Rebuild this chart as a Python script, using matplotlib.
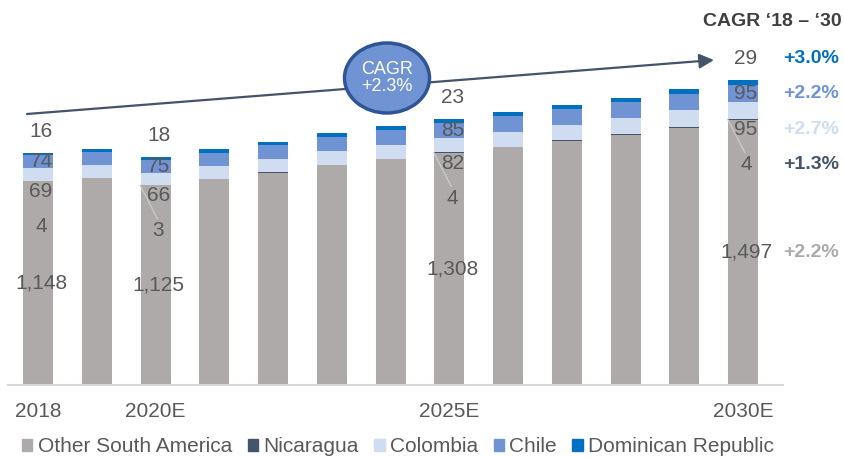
import matplotlib
matplotlib.use("Agg")
import matplotlib.pyplot as plt
from matplotlib.patches import Ellipse, Patch
import numpy as np

plt.rcParams['font.family'] = ['Liberation Sans', 'DejaVu Sans']

years = ['2018', '', '2020E', '', '', '', '', '2025E', '', '', '', '', '2030E']
other_sa = [1148, 1165, 1125, 1160, 1198, 1238, 1272, 1308, 1340, 1375, 1410, 1452, 1497]
nicaragua = [4, 4, 3, 3, 3, 4, 4, 4, 4, 4, 4, 4, 4]
colombia = [69, 70, 66, 71, 73, 76, 79, 82, 85, 87, 89, 92, 95]
chile = [74, 76, 75, 77, 79, 81, 83, 85, 87, 89, 91, 93, 95]
dom_rep = [16, 17, 18, 19, 20, 20, 21, 23, 24, 25, 26, 28, 29]
labelled = [0, 2, 7, 12]
cagr_labels = ['+3.0%', '+2.2%', '+2.7%', '+1.3%', '+2.2%']
overall_cagr = '+2.3%'

names = ['Other South America', 'Nicaragua', 'Colombia', 'Chile', 'Dominican Republic']
colors = ['#AEAAAA', '#44546A', '#D0DCF0', '#7094D3', '#0070C0']
txt = '#595959'

W, H = 845, 457
fig = plt.figure(figsize=(W / 100, H / 100), dpi=100)
ax = fig.add_axes([8 / W, 72 / H, 775 / W, 385 / H])

x = np.arange(len(years))
series = [other_sa, nicaragua, colombia, chile, dom_rep]
bottom = np.zeros(len(x))
bottoms = []
for vals, c in zip(series, colors):
    bottoms.append(bottom.copy())
    ax.bar(x, vals, 0.51, bottom=bottom, color=c, linewidth=0)
    bottom = bottom + np.array(vals)
totals = bottom

ax.set_xlim(-0.511, 12.68)
ax.set_ylim(0, 2171)
for s in ['top', 'left', 'right']:
    ax.spines[s].set_visible(False)
ax.spines['bottom'].set_color('#D9D9D9')
ax.spines['bottom'].set_linewidth(1.5)
ax.set_yticks([])
ax.set_xticks(x)
ax.set_xticklabels(years, fontsize=15, color=txt)
ax.tick_params(axis='x', length=0, pad=12)

def lab(i, y, s, dy, color=txt, dx=3):
    ax.annotate(s, (i, y), xytext=(dx, dy), textcoords='offset pixels',
                ha='center', va='center', fontsize=15, color=color)

for i in labelled:
    gtop = other_sa[i]
    lab(i, other_sa[i] / 2, f'{other_sa[i]:,}', 0)
    lab(i, gtop, str(nicaragua[i]), -45)
    lab(i, gtop + nicaragua[i], str(colombia[i]), -11)
    lab(i, bottoms[3][i] + chile[i] / 2, str(chile[i]), 0)
    lab(i, totals[i], str(dom_rep[i]), 21)
    if i > 0:
        # leader line for the small Nicaragua value
        ax.plot([i - 0.26, i + 0.03], [gtop, gtop - 33 / 0.1773],
                color='#C8C8C8', lw=1)

# CAGR column on the right, aligned with the 2030 labels
last = 12
ys = [(totals[last], 21), (bottoms[3][last] + chile[last] / 2, 0),
      (other_sa[last] + nicaragua[last], -11), (other_sa[last], -45),
      (other_sa[last] / 2, 0)]
cagr_colors = [colors[4], colors[3], colors[2], colors[1], colors[0]]
for (yv, dy), s, c in zip(ys, cagr_labels, cagr_colors):
    ax.annotate(s, (last, yv), xytext=(40, dy), textcoords='offset pixels',
                ha='left', va='center', fontsize=14, color=c, fontweight='bold',
                annotation_clip=False)

fig.text(842 / W, 1 - 21 / H, 'CAGR \u201818 \u2013 \u201830', ha='right', va='center',
         fontsize=14, fontweight='bold', color='#404040')

# overall CAGR arrow with bubble
ax.annotate('', xy=(714 / W, 1 - 60 / H), xytext=(27 / W, 1 - 114 / H),
            xycoords='figure fraction', textcoords='figure fraction',
            arrowprops=dict(arrowstyle='-|>', color='#44546A', lw=1.6,
                            mutation_scale=22, shrinkA=0, shrinkB=0),
            annotation_clip=False)
ell = Ellipse((387 / W, 1 - 78 / H), 85 / W, 70 / H, transform=fig.transFigure,
              facecolor='#7094D3', edgecolor='#2F5597', linewidth=2.5, zorder=5)
fig.add_artist(ell)
fig.text(387 / W, 1 - 78 / H, 'CAGR\n' + overall_cagr, ha='center', va='center',
         fontsize=13, color='white', zorder=6, linespacing=1.05)

handles = [Patch(color=c, label=n) for c, n in zip(colors, names)]
fig.legend(handles=handles, loc='center', bbox_to_anchor=(398 / W, 1 - 447 / H),
           ncol=5, frameon=False, fontsize=15, handlelength=0.5, handleheight=0.5,
           handletextpad=0.25, columnspacing=0.75, labelcolor=txt,
           borderaxespad=0, borderpad=0)

fig.savefig('out.png', dpi=100)
